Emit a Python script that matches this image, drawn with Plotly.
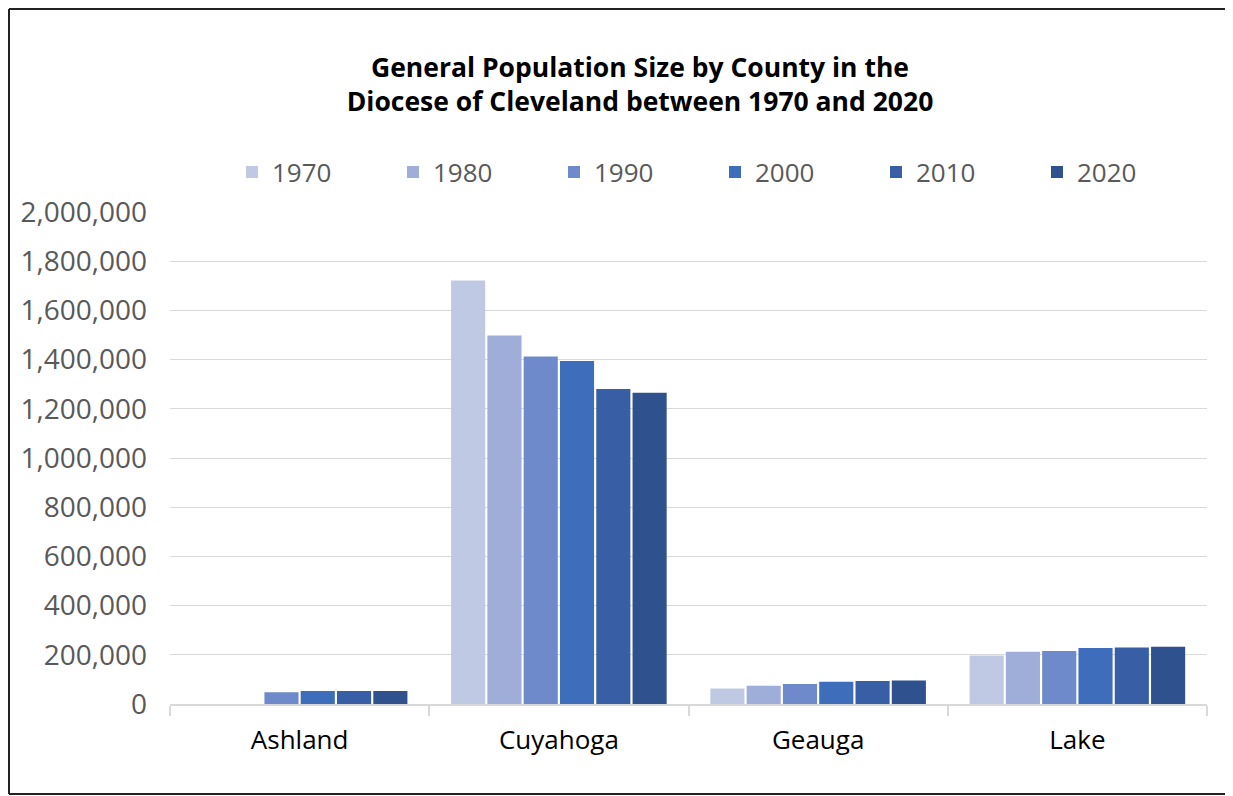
import plotly.graph_objects as go

counties = ["Ashland", "Cuyahoga", "Geauga", "Lake"]
years = ["1970", "1980", "1990", "2000", "2010", "2020"]
pop_1970 = [0, 1721300, 62977, 197200]
pop_1980 = [0, 1498400, 74474, 212801]
pop_1990 = [47507, 1412140, 81129, 215499]
pop_2000 = [52523, 1393978, 90895, 227511]
pop_2010 = [53139, 1280122, 93389, 230041]
pop_2020 = [52447, 1264817, 95397, 232603]
series = [pop_1970, pop_1980, pop_1990, pop_2000, pop_2010, pop_2020]
colors = ["#BFC9E4", "#9FAED9", "#6E8ACB", "#3E6DBB", "#385FA6", "#2F528F"]
y_ticks = list(range(0, 2000001, 200000))

W, H = 1225, 788
ml, mr, mt, mb = 162, 26, 204, 92
pw, ph = W - ml - mr, H - mt - mb

fig = go.Figure()
for yr, vals, c in zip(years, series, colors):
    fig.add_trace(go.Bar(name=yr, x=counties, y=vals, marker=dict(color=c, line=dict(width=0))))

font = "'Open Sans', 'Liberation Sans', sans-serif"

# border lines (left, top, bottom) in paper coordinates
xl = (-ml + 1) / pw
xr = (W - ml + 20) / pw
yb = (-mb + 2) / ph
yt = 1 + (mt - 1) / ph
border = dict(color="#222222", width=2)
shapes = [
    dict(type="line", xref="paper", yref="paper", x0=xl, x1=xl, y0=yb, y1=yt, line=border, layer="below"),
    dict(type="line", xref="paper", yref="paper", x0=xl, x1=xr, y0=yt, y1=yt, line=border, layer="below"),
    dict(type="line", xref="paper", yref="paper", x0=xl, x1=xr, y0=yb, y1=yb, line=border, layer="below"),
]

fig.update_layout(
    width=W, height=H,
    margin=dict(l=ml, r=mr, t=mt, b=mb, autoexpand=False),
    paper_bgcolor="white", plot_bgcolor="white",
    barmode="group", bargap=0.16, bargroupgap=0.06,
    font=dict(family=font, color="#595959", size=20),
    title=dict(text="<b>General Population Size by County in the<br>Diocese of Cleveland between 1970 and 2020</b>",
               x=632 / W, xanchor="center", y=1 - 68.5 / H, yanchor="middle",
               font=dict(size=26.5, color="black", family=font)),
    legend=dict(orientation="h", x=(224 - ml) / pw, xanchor="left",
                y=(H - mb - 164) / ph, yanchor="middle",
                font=dict(size=26, color="#595959"),
                entrywidth=116, entrywidthmode="pixels", itemsizing="constant"),
    xaxis=dict(showline=True, linecolor="#D9D9D9", linewidth=1.5, ticks="outside",
               tickson="boundaries", ticklen=10, tickcolor="#D9D9D9", tickwidth=1.5,
               tickfont=dict(size=26, color="black"), tickangle=0, showgrid=False,
               ticklabelstandoff=12),
    yaxis=dict(range=[0, 2000000], tickvals=y_ticks, tickformat=",", gridcolor="#D9D9D9",
               gridwidth=1.2, showline=False, zeroline=False,
               tickfont=dict(size=28, color="#595959"), ticklabelstandoff=22),
    shapes=shapes,
)
fig.write_html("out.html")
